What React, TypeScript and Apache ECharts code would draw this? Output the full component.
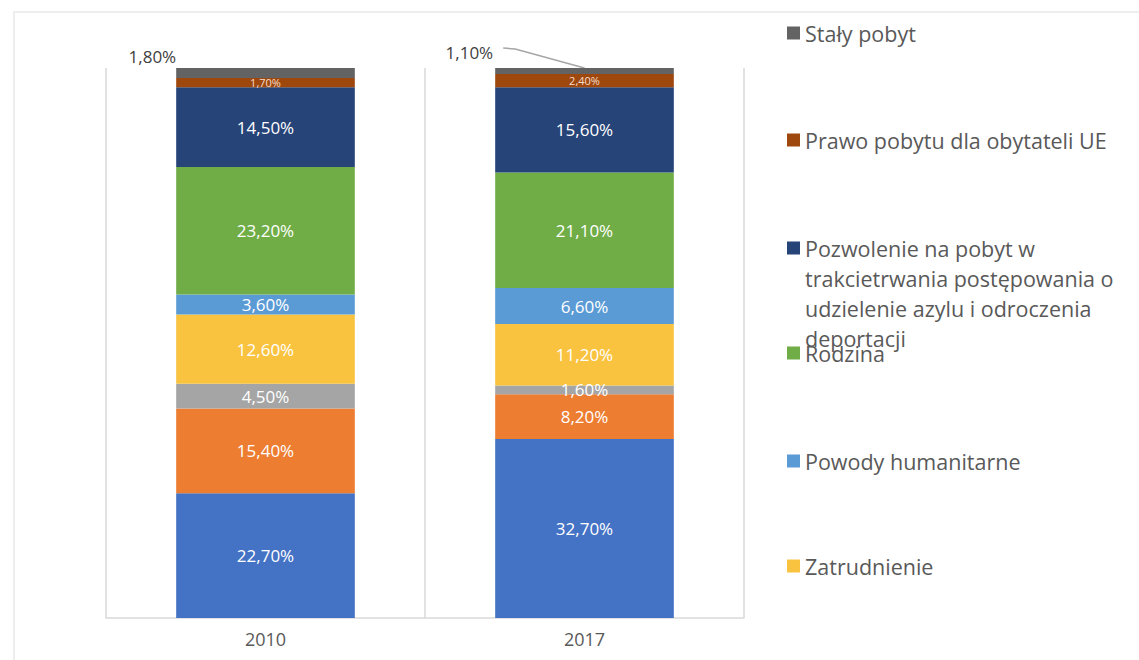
import React, { useEffect, useRef } from 'react';
import * as echarts from 'echarts';

const years = ['2010', '2017'];

// stacked from bottom to top
const nameBlue = 'Inne';
const nameOrange = 'Edukacja';
const nameGrey = 'Pozostałe';
const nameZatrudnienie = 'Zatrudnienie';
const nameHumanitarne = 'Powody humanitarne';
const nameRodzina = 'Rodzina';
const nameAzyl = 'Pozwolenie na pobyt w trakcietrwania postępowania o udzielenie azylu i odroczenia deportacji';
const nameUE = 'Prawo pobytu dla obytateli UE';
const nameStaly = 'Stały pobyt';

const valBlue = [22.7, 32.7];
const valOrange = [15.4, 8.2];
const valGrey = [4.5, 1.6];
const valZatrudnienie = [12.6, 11.2];
const valHumanitarne = [3.6, 6.6];
const valRodzina = [23.2, 21.1];
const valAzyl = [14.5, 15.6];
const valUE = [1.7, 2.4];
const valStaly = [1.8, 1.1];

const azylLines = ['Pozwolenie na pobyt w', 'trakcietrwania postępowania o', 'udzielenie azylu i odroczenia', 'deportacji'];

const FONT = "'Open Sans', 'Noto Sans', sans-serif";
const BAR_RATIO = 0.56;

export default function App() {
  const ref = useRef<HTMLDivElement>(null);
  useEffect(() => {
    if (!ref.current) return;
    const chart = echarts.init(ref.current, null, { renderer: 'svg' });
    const all = [
      { name: nameBlue, vals: valBlue, color: '#4472C4' },
      { name: nameOrange, vals: valOrange, color: '#ED7D31' },
      { name: nameGrey, vals: valGrey, color: '#A5A5A5' },
      { name: nameZatrudnienie, vals: valZatrudnienie, color: '#F9C340' },
      { name: nameHumanitarne, vals: valHumanitarne, color: '#5B9BD5' },
      { name: nameRodzina, vals: valRodzina, color: '#70AD47' },
      { name: nameAzyl, vals: valAzyl, color: '#264478' },
      { name: nameUE, vals: valUE, color: '#9E480E' },
      { name: nameStaly, vals: valStaly, color: '#636363' },
    ];
    const totals = years.map((_, i) => all.reduce((s, a) => s + a.vals[i], 0));
    const fmt = (v: number) => v.toFixed(2).replace('.', ',') + '%';

    const series: any[] = all.map((s, si) => {
      const isTop = si === all.length - 1;
      const isSmall = si === all.length - 2;
      return {
        type: 'bar',
        name: s.name,
        stack: 'total',
        barWidth: BAR_RATIO * 100 + '%',
        itemStyle: { color: s.color },
        label: {
          show: true,
          position: isTop ? 'left' : 'inside',
          distance: 0,
          color: isTop ? '#404040' : isSmall ? '#F6DCCB' : '#ffffff',
          fontSize: isSmall ? 11 : 17,
          fontFamily: FONT,
          formatter: (p: any) => fmt(p.data.raw),
        },
        labelLayout: isTop
          ? (p: any) => (p.dataIndex === 0 ? { dy: -16 } : { dx: -2, dy: -19 })
          : undefined,
        data: s.vals.map((v, i) => ({ value: (v / totals[i]) * 100, raw: v })),
      };
    });

    const legendItems = [
      { name: nameStaly, top: 21 },
      { name: nameUE, top: 128 },
      { name: nameAzyl, top: 143, multi: true },
      { name: nameRodzina, top: 341 },
      { name: nameHumanitarne, top: 449 },
      { name: nameZatrudnienie, top: 554 },
    ];

    const legend = legendItems.map((l) => ({
      data: [l.name],
      left: 787,
      top: l.top,
      padding: 0,
      orient: 'vertical',
      icon: 'rect',
      itemWidth: 13,
      itemHeight: 13,
      itemGap: 0,
      selectedMode: false,
      formatter: l.multi ? () => '\n\n\n' + azylLines.join('\n') : undefined,
      textStyle: l.multi
        ? { color: '#595959', fontSize: 21.5, fontFamily: FONT, lineHeight: 30 }
        : { color: '#595959', fontSize: 21.5, fontFamily: FONT, lineHeight: 24 },
    }));

    const frame = {
      type: 'rect',
      shape: { x: 14, y: 12, width: 1200, height: 700 },
      style: { fill: 'none', stroke: '#EEEEEE', lineWidth: 2 },
      silent: true,
    };

    chart.setOption({
      animation: false,
      backgroundColor: '#ffffff',
      grid: { left: 106, right: 395, top: 68, bottom: 42 },
      legend,
      xAxis: {
        type: 'category',
        data: years,
        axisLine: { lineStyle: { color: '#D9D9D9', width: 1.5 } },
        axisTick: { show: false },
        splitLine: { show: true, lineStyle: { color: '#D9D9D9', width: 1.5 } },
        axisLabel: { color: '#595959', fontSize: 18, fontFamily: FONT, margin: 12 },
      },
      yAxis: { type: 'value', min: 0, max: 100, show: false, splitLine: { show: false } },
      graphic: [frame],
      series,
    });

    // leader line for the small top label of 2017, placed from the chart's own scales
    const p0 = chart.convertToPixel({ gridIndex: 0 }, [years[0], 100]) as number[];
    const p1 = chart.convertToPixel({ gridIndex: 0 }, [years[1], 100]) as number[];
    const band = p1[0] - p0[0];
    const barLeft = p1[0] - (band * BAR_RATIO) / 2;
    chart.setOption({
      graphic: [
        frame,
        {
          type: 'polyline',
          shape: {
            points: [
              [barLeft + 8, p1[1] - 20],
              [barLeft + 20, p1[1] - 19],
              [p1[0], p1[1]],
            ],
          },
          style: { fill: 'none', stroke: '#A6A6A6', lineWidth: 1.5 },
          silent: true,
        },
      ],
    });
    return () => chart.dispose();
  }, []);
  return <div ref={ref} style={{ position: 'absolute', left: 0, top: 0, width: 1139, height: 660 }} />;
}
